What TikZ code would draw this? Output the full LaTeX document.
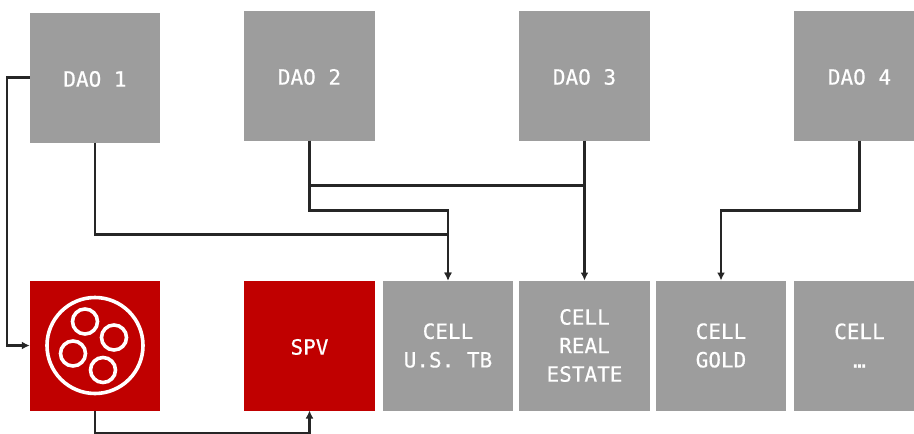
\documentclass[tikz,border=0pt]{standalone}
\usepackage{fontspec}
\usepackage{xcolor}
\usepackage{tikz}
\usetikzlibrary{arrows.meta,positioning}
\setmonofont[BoldFont={DejaVu Sans Mono},BoldFeatures={FakeBold=0.5}]{DejaVu Sans Mono}
\definecolor{cellgray}{HTML}{9D9D9D}
\definecolor{spvred}{HTML}{C00000}
\definecolor{wirecol}{HTML}{262626}

\begin{document}
\begin{tikzpicture}[
      x=1pt,y=1pt,
      font=\ttfamily\bfseries\fontsize{21}{28.5}\selectfont,
      box/.style={fill=cellgray,text=white,align=center,outer sep=0pt,inner sep=0pt,
        minimum width=130.5pt,minimum height=130pt,
        execute at begin node={\rule{0pt}{18.5pt}}},
      redbox/.style={box,fill=spvred},
      ring/.style={circle,draw=white,line width=3.6pt,inner sep=0pt,outer sep=0pt},
      wire/.style={line width=2.2pt,draw=wirecol},
      arrow/.style={wire,-{Latex[length=8pt,width=8pt]}}
    ]
      \clip (0,0) rectangle (914,-434);
      \fill[white] (0,0) rectangle (914,-434);
      \node[redbox] (pool) at (95,-345.5) {};
      \node[redbox,right=84pt of pool] (spv) {SPV};
      \node[box,right=8pt of spv] (cell1) {CELL\\U.S. TB};
      \node[box,right=6pt of cell1] (cell2) {CELL\\REAL\\ESTATE};
      \node[box,right=6pt of cell2] (cell3) {CELL\\GOLD};
      \node[box,right=8pt of cell3] (cell4) {CELL\\…};
      \node[box,above=138pt of pool] (dao1) {DAO 1};
      \node[box,above=140pt of spv] (dao2) {DAO 2};
      \node[box,above=140pt of cell2] (dao3) {DAO 3};
      \node[box,above=140pt of cell4] (dao4) {DAO 4};
      \node[ring,minimum size=96pt] (poolring) at (pool) {};
      \node[ring,minimum size=25pt] (coin1) at ([shift={(-10,24)}]pool.center) {};
      \node[ring,minimum size=25pt] (coin2) at ([shift={(19,8)}]pool.center) {};
      \node[ring,minimum size=25pt] (coin3) at ([shift={(-22,-8)}]pool.center) {};
      \node[ring,minimum size=25pt] (coin4) at ([shift={(8,-24.5)}]pool.center) {};
      \coordinate (daojoin) at ([yshift=-45pt]dao3.south);
      \draw[arrow] (dao1.west) -- ++(-23,0) |- (pool.west);
      \draw[arrow] (pool.south) -- ++(0,-23) -| (spv.south);
      \draw[arrow] (dao1.south) -- ++(0,-92) -| (cell1.north);
      \draw[arrow] (dao2.south) -- ++(0,-70) -| (cell1.north);
      \draw[wire] (dao2.south) |- (daojoin);
      \draw[arrow] (dao3.south) -- (cell2.north);
      \draw[arrow] (dao4.south) -- ++(0,-70) -| (cell3.north);
    \end{tikzpicture}
\end{document}
